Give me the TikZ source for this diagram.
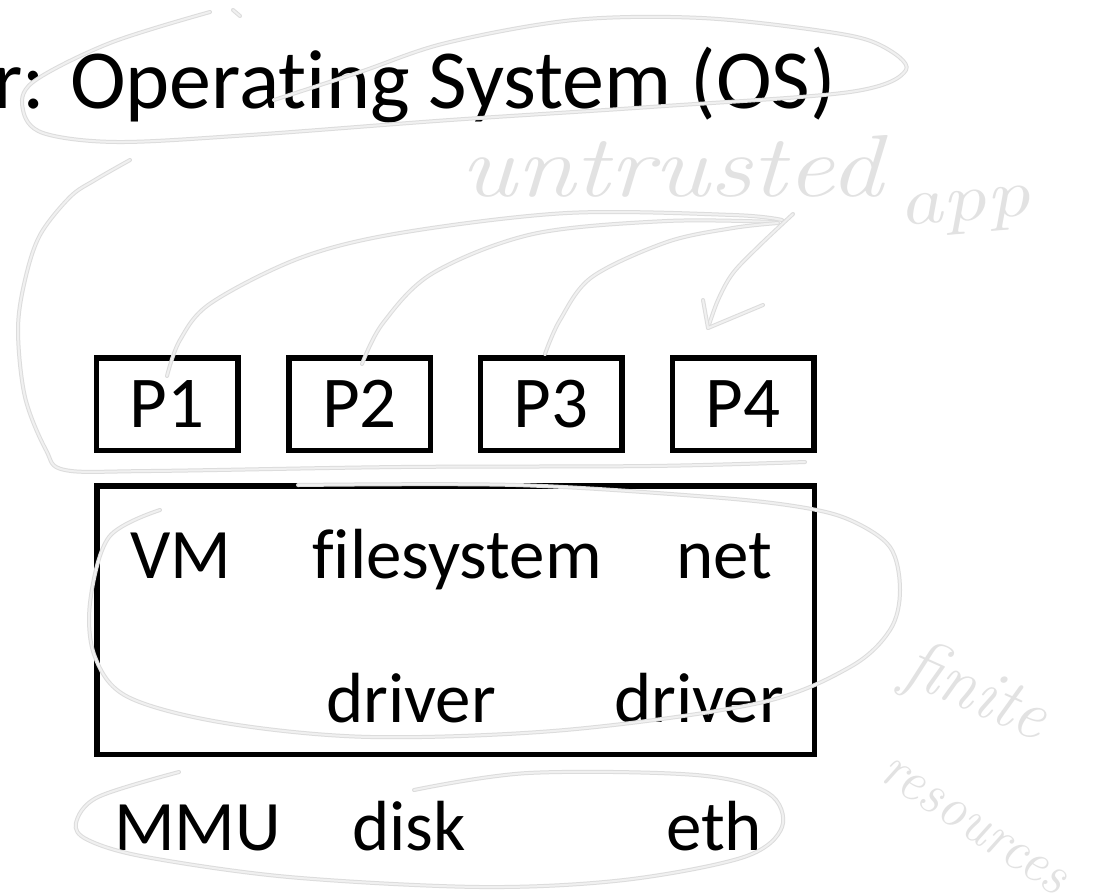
\documentclass[tikz,border=0pt]{standalone}
\usepackage{fontspec}
\newfontfamily\calfont[Ligatures={NoCommon,NoContextual}]{Carlito}
\definecolor{inkedge}{RGB}{220,220,220}
\definecolor{inkfill}{RGB}{240,240,240}
\definecolor{inktext}{RGB}{226,226,226}
\tikzset{
  ink/.style={draw=inkedge, line width=1, double=inkfill, double distance=2, line cap=round, line join=round},
  pbox/.style={draw, line width=5.5, minimum width=141.5, minimum height=92.5, inner sep=0, font=\calfont\fontsize{73}{80}\selectfont},
  kbox/.style={draw, line width=5.5, minimum width=717.5, minimum height=268.5, inner sep=0},
  lbl/.style={anchor=base west, inner sep=0, font=\calfont\fontsize{71}{80}\selectfont},
  ttl/.style={anchor=base east, inner sep=0, font=\calfont\fontsize{84}{96}\selectfont},
  hand/.style={anchor=base west, inner sep=0, text=inktext, font=\itshape}
}
\begin{document}
\begin{tikzpicture}[x=1pt, y=-1pt]
\useasboundingbox (0,0) rectangle (1099,895);
\clip (0,0) rectangle (1099,895);
\fill[white] (0,0) rectangle (1099,895);

% title
\node[ttl] (title) at (836,108) {r: Operating System (OS)};

% processes
\node[pbox] (P1) at (167,404) {P1};
\node[pbox] (P2) at (359.5,404) {P2};
\node[pbox] (P3) at (551,404) {P3};
\node[pbox] (P4) at (743,404) {P4};

% kernel
\node[kbox] (kernel) at (455.5,620) {};
\node[lbl] (vm) at (130,578) {VM};
\node[lbl] (fs) at (312,578) {filesystem};
\node[lbl] (net) at (676,578) {net};
\node[lbl] (drv1) at (326,722) {driver};
\node[lbl] (drv2) at (614,722) {driver};

% hardware
\node[lbl] (mmu) at (114,850) {MMU};
\node[lbl] (disk) at (352,850) {disk};
\node[lbl] (eth) at (666,850) {eth};

% handwriting
\node[hand, font=\itshape\fontsize{88}{90}\selectfont, xscale=1.21] (untrusted) at (460,196) {untrusted};
\node[hand, font=\itshape\fontsize{68}{70}\selectfont, xscale=1.3, rotate=6] (app) at (900,226) {app};
\node[hand, font=\itshape\fontsize{72}{76}\selectfont, xscale=0.95, rotate=-23] (finite) at (900,680) {finite};
\node[hand, font=\itshape\fontsize{60}{64}\selectfont, xscale=0.9, rotate=-31] (resources) at (878,778) {resources};

% title loop
\draw[ink] plot[smooth, tension=0.55] coordinates {(210,12) (110,43) (33,82) (23,110) (43,133) (117,142) (250,135) (450,120) (650,107) (850,92) (906,70) (880,45) (829,32) (702,18) (574,20) (446,43) (360,72) (274,100)};
\draw[ink] (233,10) -- (240,16);

% app loop
\draw[ink] plot[smooth, tension=0.55] coordinates {(130,160) (95,180) (70,197) (40,235) (25,280) (18,330) (25,397) (46,450) (65,470) (150,471) (400,467) (650,466) (805,462)};

% curves from the app
\coordinate (hubA) at (782,220);
\coordinate (hubB) at (775,222);
\coordinate (hubC) at (778,223);
\coordinate (endA) at (167,376);
\coordinate (endB) at (362,364);
\coordinate (endC) at (545,354);
\draw[ink] plot[smooth, tension=0.55] coordinates {(hubA) (733,215) (567,213) (400,233) (300,258) (211,303) (180,340) (endA)};
\draw[ink] plot[smooth, tension=0.55] coordinates {(hubB) (667,221) (533,234) (433,273) (383,323) (endB)};
\draw[ink] plot[smooth, tension=0.55] coordinates {(hubC) (733,228) (667,242) (592,277) (560,320) (endC)};
\coordinate (tip) at (708,328);
\draw[ink] plot[smooth, tension=0.55] coordinates {(793,214) (760,245) (733,273) (718,300) (tip)};
\draw[ink] (703,300) -- (tip) -- (763,305);

% kernel loop
\draw[ink] plot[smooth, tension=0.55] coordinates {(160,510) (109,537) (90,603) (95,657) (128,697) (225,723) (371,737) (565,730) (759,703) (850,667) (890,630) (900,590) (890,547) (850,520) (800,507) (710,497) (516,485) (298,485)};

% hardware loop
\draw[ink] plot[smooth, tension=0.55] coordinates {(179,772) (98,797) (76,823) (88,840) (146,857) (289,877) (481,887) (624,880) (744,857) (782,827) (768,793) (696,775) (528,773) (414,790)};
\end{tikzpicture}
\end{document}
